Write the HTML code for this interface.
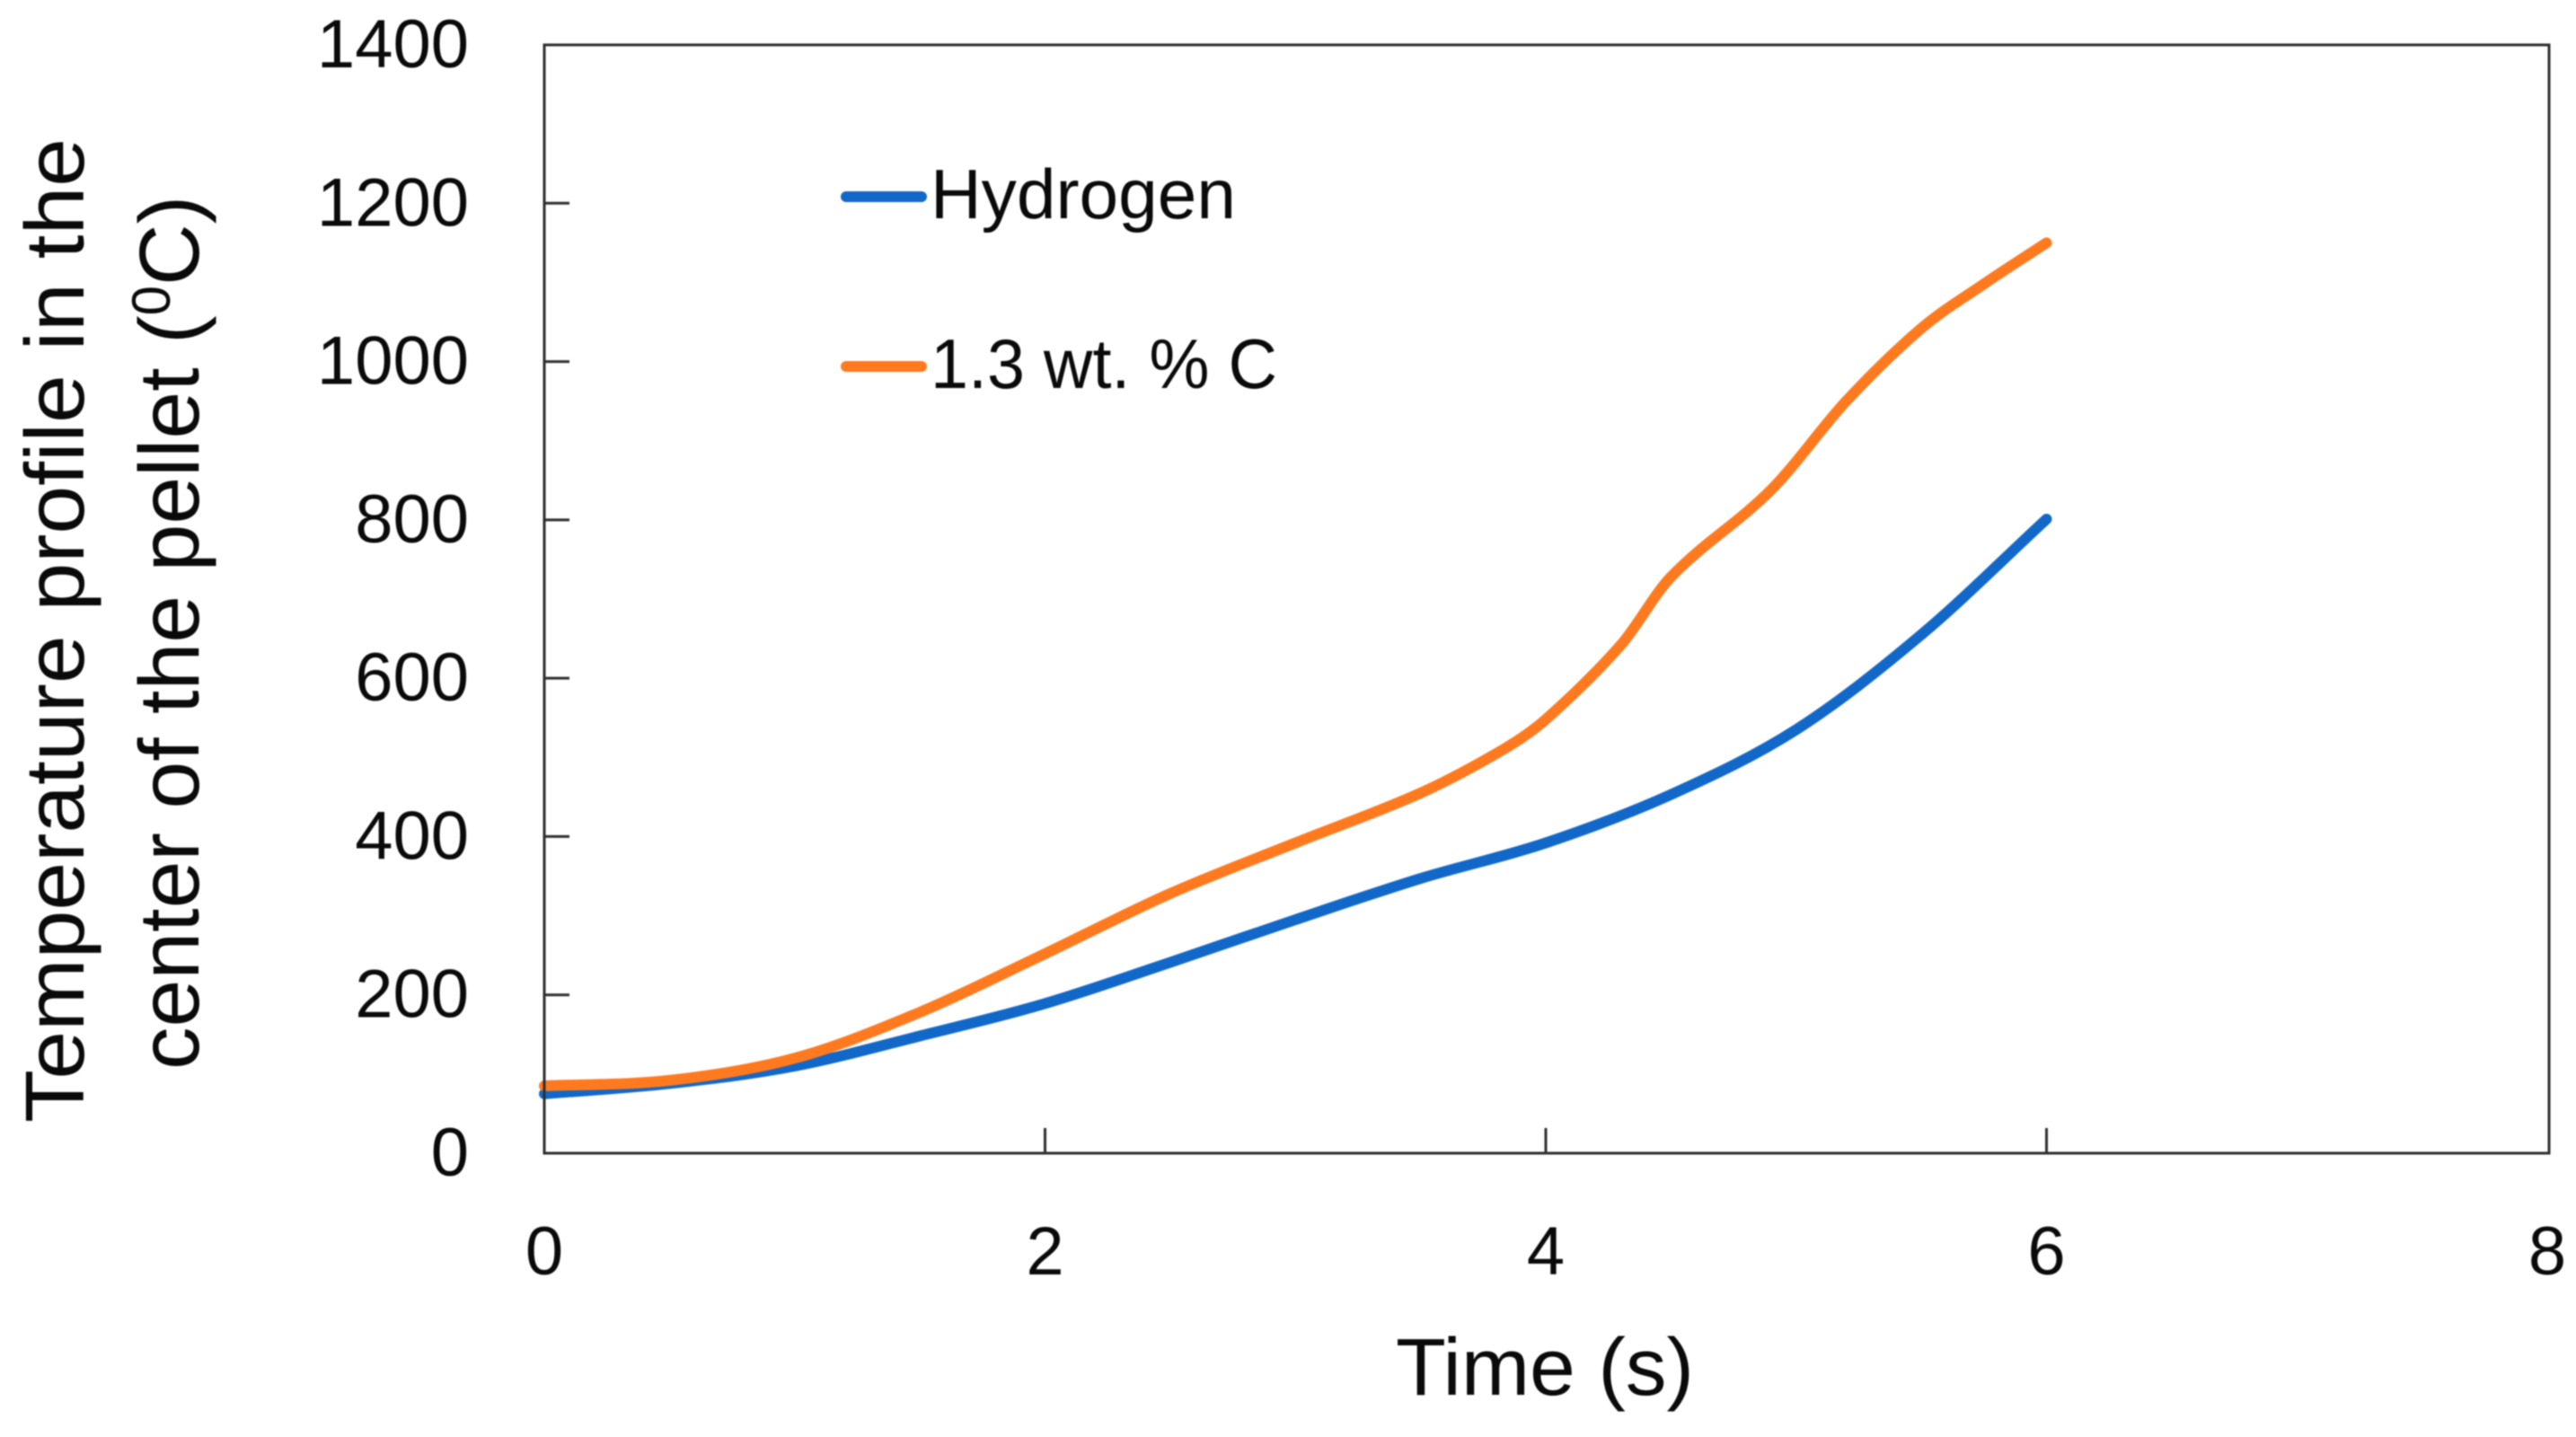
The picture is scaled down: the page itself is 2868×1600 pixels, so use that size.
<!DOCTYPE html>
<html lang="en">
<head>
<meta charset="utf-8">
<title>Temperature profile chart</title>
<style>
html,body{margin:0;padding:0;background:#fff;width:2868px;height:1600px;overflow:hidden}
svg{display:block;filter:blur(.7px)}
text{font-family:"Liberation Sans",sans-serif;fill:#0a0a0a}
</style>
</head>
<body>
<svg id="chart" xmlns="http://www.w3.org/2000/svg" width="2868" height="1600" viewBox="0 0 2868 1600">
  <rect x="0" y="0" width="2868" height="1600" fill="#fff"/>
  <g id="ticks"></g>
  <g id="series"></g>
  <rect x="606" y="50" width="2232" height="1234" fill="none" stroke="#2e2e2e" stroke-width="3"/>
  <g id="tick-labels"></g>
  <text transform="translate(93,1250) rotate(-90)" font-size="93" textLength="1096" lengthAdjust="spacingAndGlyphs">Temperature profile in the</text>
  <text transform="translate(221,1191) rotate(-90)" font-size="95">center of the pellet (<tspan font-size="60" dy="-32">0</tspan><tspan dy="32">C)</tspan></text>
  <text x="1554" y="1553" font-size="90" textLength="332" lengthAdjust="spacingAndGlyphs">Time (s)</text>
  <g>
    <line x1="942" y1="219" x2="1026" y2="219" stroke="#1268C8" stroke-width="12" stroke-linecap="round"/>
    <text x="1036" y="243" font-size="78" textLength="340" lengthAdjust="spacingAndGlyphs">Hydrogen</text>
    <line x1="942" y1="408" x2="1026" y2="408" stroke="#FF7A1F" stroke-width="12" stroke-linecap="round"/>
    <text x="1036" y="432" font-size="78" textLength="386" lengthAdjust="spacingAndGlyphs">1.3 wt. % C</text>
  </g>
</svg>
<script>
const xTickValues = [0, 2, 4, 6, 8];
const yTickValues = [0, 200, 400, 600, 800, 1000, 1200, 1400];
const hydrogenTime = [0, 0.5, 1, 1.5, 2, 2.5, 3, 3.5, 4, 4.5, 5, 5.5, 6];
const hydrogenTemp = [75, 88, 110, 148, 189, 241, 295, 347, 392, 453, 535, 655, 801];
const carbonTime = [0, 0.5, 1, 1.5, 2, 2.5, 3, 3.5, 3.83, 4, 4.3, 4.5, 4.9, 5.2, 5.5, 5.75, 6];
const carbonTemp = [85, 92, 120, 178, 252, 328, 392, 455, 510, 548, 642, 728, 838, 950, 1042, 1098, 1150];

const svgNS = 'http://www.w3.org/2000/svg';
const plot = {left: 606, right: 2836, top: 50, bottom: 1284, xMax: 8, yMax: 1400};
function xScale(v) { return plot.left + (v / plot.xMax) * (plot.right - plot.left); }
function yScale(v) { return plot.bottom - (v / plot.yMax) * (plot.bottom - plot.top); }

function smoothPath(xs, ys) {
  const p = xs.map(function (x, i) { return [xScale(x), yScale(ys[i])]; });
  const n = p.length;
  const m = p.map(function (pt, i) {
    const a = p[Math.max(i - 1, 0)], b = p[Math.min(i + 1, n - 1)];
    return (b[1] - a[1]) / (b[0] - a[0]);
  });
  let d = 'M' + p[0][0].toFixed(1) + ' ' + p[0][1].toFixed(1);
  for (let i = 0; i < n - 1; i++) {
    const h = (p[i + 1][0] - p[i][0]) / 3;
    d += 'C' + (p[i][0] + h).toFixed(1) + ' ' + (p[i][1] + m[i] * h).toFixed(1) + ' ' +
         (p[i + 1][0] - h).toFixed(1) + ' ' + (p[i + 1][1] - m[i + 1] * h).toFixed(1) + ' ' +
         p[i + 1][0].toFixed(1) + ' ' + p[i + 1][1].toFixed(1);
  }
  return d;
}

const ticksGroup = document.getElementById('ticks');
const labelsGroup = document.getElementById('tick-labels');
const seriesGroup = document.getElementById('series');

xTickValues.forEach(function (v) {
  const x = xScale(v);
  if (v > 0 && v < plot.xMax) {
    const t = document.createElementNS(svgNS, 'line');
    
    
    t.setAttribute('x1', x);
    t.setAttribute('x2', x);
    t.setAttribute('y1', plot.bottom);
    t.setAttribute('y2', plot.bottom - 28);
    t.setAttribute('stroke', '#2e2e2e');
    t.setAttribute('stroke-width', '3');
    ticksGroup.appendChild(t);
  }
  const l = document.createElementNS(svgNS, 'text');
  
  
  l.setAttribute('x', x);
  l.setAttribute('y', 1419);
  l.setAttribute('font-size', '76');
  l.setAttribute('text-anchor', 'middle');
  l.textContent = String(v);
  labelsGroup.appendChild(l);
});

yTickValues.forEach(function (v) {
  const y = yScale(v);
  if (v > 0 && v < plot.yMax) {
    const t = document.createElementNS(svgNS, 'line');
    
    
    t.setAttribute('x1', plot.left);
    t.setAttribute('x2', plot.left + 28);
    t.setAttribute('y1', y);
    t.setAttribute('y2', y);
    t.setAttribute('stroke', '#2e2e2e');
    t.setAttribute('stroke-width', '3');
    ticksGroup.appendChild(t);
  }
  const l = document.createElementNS(svgNS, 'text');
  
  
  l.setAttribute('x', 522);
  l.setAttribute('y', y + 25);
  l.setAttribute('font-size', '76');
  l.setAttribute('text-anchor', 'end');
  l.textContent = String(v);
  labelsGroup.appendChild(l);
});

const hydrogenLine = document.createElementNS(svgNS, 'path');


hydrogenLine.setAttribute('d', smoothPath(hydrogenTime, hydrogenTemp));
hydrogenLine.setAttribute('fill', 'none');
hydrogenLine.setAttribute('stroke', '#1268C8');
hydrogenLine.setAttribute('stroke-width', '12');
hydrogenLine.setAttribute('stroke-linecap', 'round');
seriesGroup.appendChild(hydrogenLine);

const carbonLine = document.createElementNS(svgNS, 'path');


carbonLine.setAttribute('d', smoothPath(carbonTime, carbonTemp));
carbonLine.setAttribute('fill', 'none');
carbonLine.setAttribute('stroke', '#FF7A1F');
carbonLine.setAttribute('stroke-width', '12');
carbonLine.setAttribute('stroke-linecap', 'round');
seriesGroup.appendChild(carbonLine);
</script>
</body>
</html>
